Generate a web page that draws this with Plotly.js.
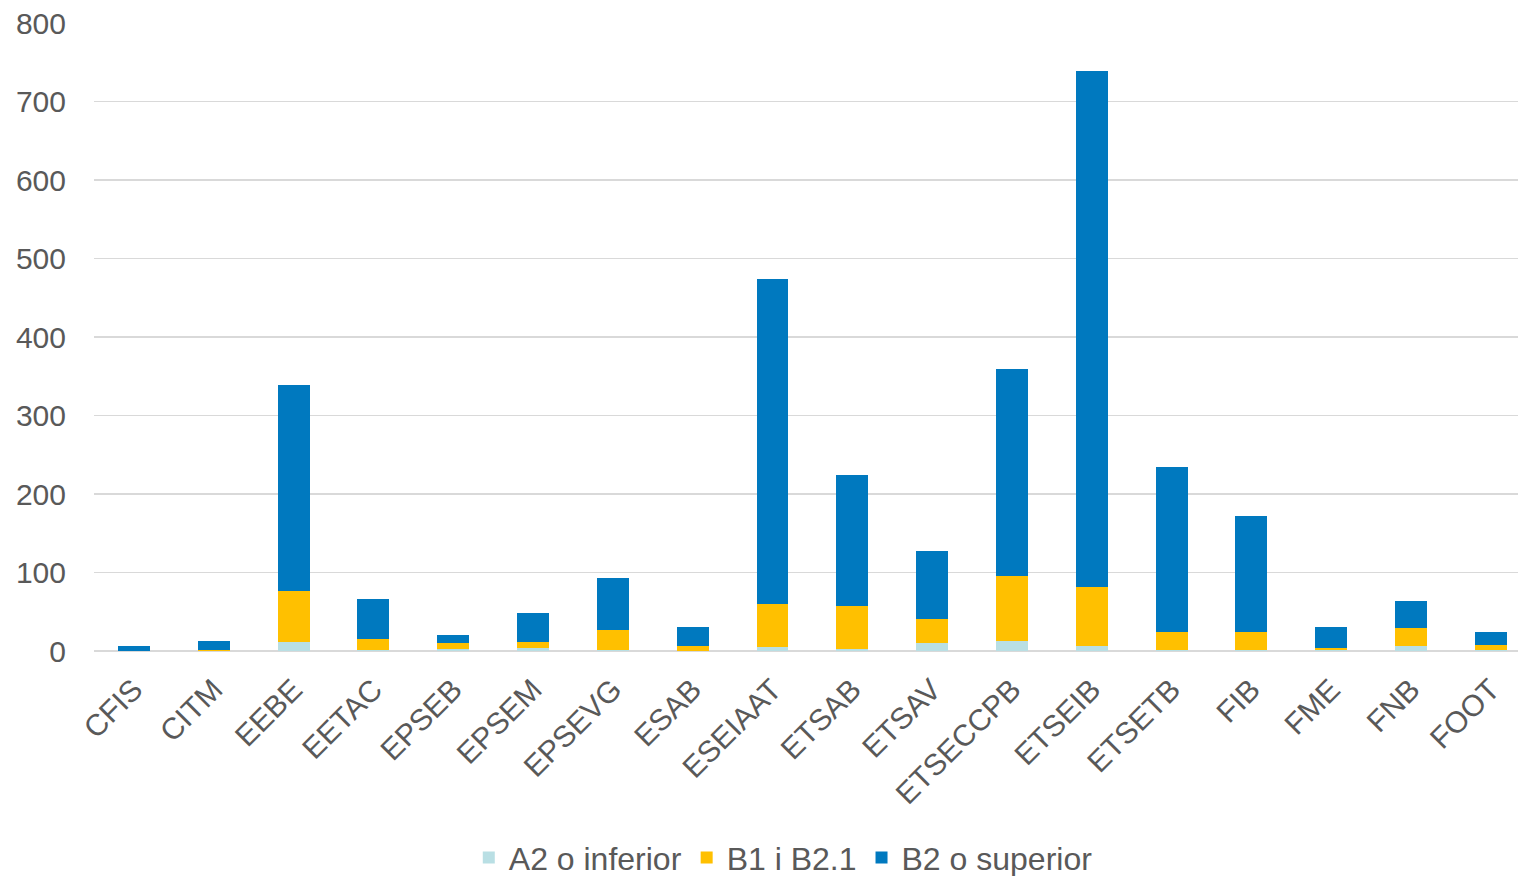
<!DOCTYPE html>
<html>
<head>
<meta charset="utf-8">
<script src="https://cdn.plot.ly/plotly-3.0.1.min.js"></script>
<style>html,body{margin:0;padding:0;background:#fff;}#chart{width:1518px;height:876px;}</style>
</head>
<body>
<div id="chart"></div>
<script>
const categories = ["CFIS","CITM","EEBE","EETAC","EPSEB","EPSEM","EPSEVG","ESAB","ESEIAAT","ETSAB","ETSAV","ETSECCPB","ETSEIB","ETSETB","FIB","FME","FNB","FOOT"];
const a2Inferior = [0,0,12,1,3,4,1,0,5,3,10,13,6,1,1,1,6,1];
const b1B21 = [0,1,65,14,7,8,26,6,55,54,31,82,75,23,23,3,23,7];
const b2Superior = [7,12,262,51,10,37,66,25,414,167,87,264,658,210,148,27,35,16];

const font = {family: "Liberation Sans, Arial, sans-serif", size: 30, color: "#595959"};
const legendFont = {family: "Liberation Sans, Arial, sans-serif", size: 32, color: "#595959"};
const data = [
  {type: "bar", name: "A2 o inferior", x: categories, y: a2Inferior, marker: {color: "#B9DFE4"}},
  {type: "bar", name: "B1 i B2.1", x: categories, y: b1B21, marker: {color: "#FFC000"}},
  {type: "bar", name: "B2 o superior", x: categories, y: b2Superior, marker: {color: "#0079BF"}}
];
const layout = {
  width: 1518, height: 876,
  barmode: "stack", bargap: 0.6,
  margin: {l: 94, r: 0, t: 23, b: 225},
  paper_bgcolor: "#fff", plot_bgcolor: "#fff",
  font: font,
  showlegend: true,
  legend: {orientation: "h", xref: "container", yref: "container", x: 0.516, xanchor: "center", y: 0.021, yanchor: "middle", font: legendFont, traceorder: "normal", itemwidth: 30},
  xaxis: {range: [-0.5, 17.34], tickangle: -45, tickfont: font, showgrid: false, zeroline: false, showline: false, ticks: "", ticklabelstandoff: 14, automargin: false},
  yaxis: {range: [0, 800], dtick: 100, tickfont: font, gridcolor: "#D9D9D9", gridwidth: 1.5, zeroline: true, zerolinecolor: "#D9D9D9", zerolinewidth: 2, showline: false, ticks: "", ticklabelstandoff: 27, automargin: false}
};
Plotly.newPlot("chart", data, layout, {displayModeBar: false, staticPlot: true});
</script>
</body>
</html>
